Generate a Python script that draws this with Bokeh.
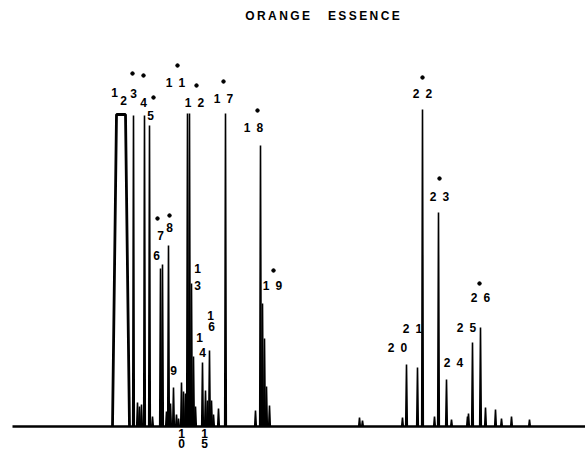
from bokeh.plotting import figure
from bokeh.models import Range1d, ColumnDataSource
from bokeh.core.properties import value
from bokeh.embed import file_html
from bokeh.resources import INLINE

# Retention positions (chart units) and detector response (chart units)
peak_t = [133, 144, 149, 160, 162, 168, 173, 181, 187, 189, 191, 202, 205, 209,
          225, 260, 262, 406, 417, 422, 438, 446, 472, 480]
peak_h = [311, 311, 301, 158, 162, 181, 39, 44, 313, 313, 143, 64, 36, 76,
          313, 281, 123, 62, 59, 317, 214, 47, 84, 99]

minor_t = [137, 139, 141, 152, 166, 170, 176, 178, 183, 185, 193, 195, 207, 211,
           213, 218, 255, 264, 266, 269, 359, 362, 402, 434, 451, 467, 468, 485,
           495, 501, 511, 529]
minor_h = [24, 20, 22, 10, 15, 23, 12, 8, 35, 33, 70, 20, 26, 26,
           12, 18, 16, 88, 40, 21, 9, 6, 9, 10, 7, 10, 13, 19,
           17, 8, 10, 7]

# Saturated (off-scale) pair of peaks 1 and 2
sat_start, sat_end = 116, 125
sat_h = 312

S = "\u2002"
# Peak labels
label_text = ["1", "2", "3", "4", "5", "6", "7", "8", "9", "1" + S + "1", "1" + S + "2",
              "1", "3", "1", "4", "1", "6", "1", "0", "1", "5",
              "1" + S + "7", "1" + S + "8", "1" + S + "9", "2" + S + "0", "2" + S + "1",
              "2" + S + "2", "2" + S + "3", "2" + S + "4", "2" + S + "5", "2" + S + "6"]
label_x = [114, 123, 133, 143, 150, 156, 160, 169, 173, 175, 194,
           197, 197, 199, 202, 210, 211, 181, 181, 204, 204,
           223, 253, 272, 397, 412, 422, 439, 453, 466, 480]
label_y = [334, 326, 333, 324, 311, 171, 191, 199, 56, 344, 324,
           158, 141, 89, 74, 111, 100, -7, -17, -7, -17,
           328, 299, 141, 79, 98, 333, 230, 64, 99, 129]

# Asterisk-like dots marking identified compounds
dot_x = [132, 143, 153, 177, 196, 223, 257, 273, 157, 169, 422, 439, 479]
dot_y = [353, 351, 329, 361, 341, 345, 316, 156, 208, 211, 349, 248, 143]

title_text = "O\u2009R\u2009A\u2009N\u2009G\u2009E\u2003\u2002E\u2009S\u2009S\u2009E\u2009N\u2009C\u2009E"

p = figure(width=585, height=456, output_backend="svg", toolbar_location=None,
           x_range=Range1d(0, 585), y_range=Range1d(-30, 426),
           min_border=0, background_fill_color="white")
p.axis.visible = False
p.grid.visible = False
p.outline_line_color = None

# baseline
p.line([12, 585], [0, 0], line_color="black", line_width=2.5)

w = 0.8
xs = [[t - w, t, t + w] for t in peak_t]
ys = [[0, h, 0] for h in peak_h]
p.multi_line(xs, ys, line_color="black", line_width=1.6)

xs2 = [[t - w, t, t + w] for t in minor_t]
ys2 = [[0, h, 0] for h in minor_h]
p.multi_line(xs2, ys2, line_color="black", line_width=1.6)

p.line([sat_start - 4, sat_start, sat_end, sat_end + 4], [0, sat_h, sat_h, 0],
       line_color="black", line_width=2.8)

src = ColumnDataSource(dict(x=label_x, y=label_y, t=label_text))
p.text(x="x", y="y", text="t", source=src, text_align="center",
       text_baseline="middle", text_font=value("Liberation Sans"),
       text_font_style="bold", text_font_size="12px", text_color="black")

p.scatter(dot_x, dot_y, size=3.5, color="black")

p.text(x=[322], y=[426 - 15], text=[title_text], text_align="center",
       text_baseline="middle", text_font=value("Liberation Sans"),
       text_font_size="12px", text_font_style="bold", text_color="black")

open("out.html", "w").write(file_html(p, INLINE))
